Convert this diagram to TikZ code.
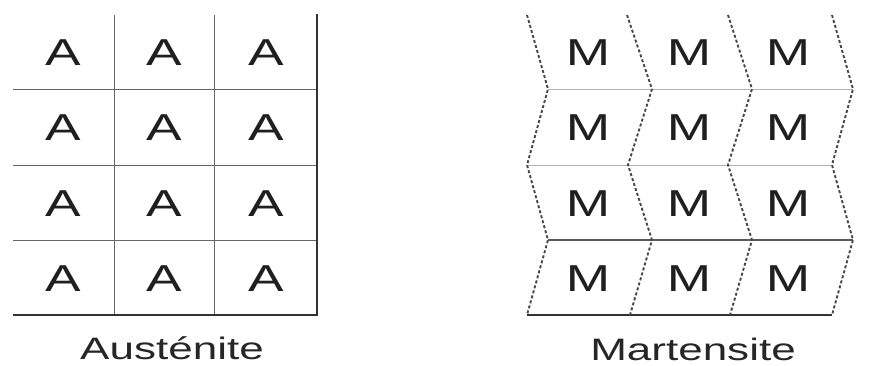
\documentclass[tikz,border=0pt]{standalone}
\usepackage{graphicx}
\usepackage{fontspec}
\setmainfont{Liberation Sans}
\tikzset{
  cellgrid/.style={draw=gray!80!black, line width=1pt},
  frameline/.style={draw=black!80, line width=2pt},
  thinrow/.style={draw=gray!60, line width=0.9pt},
  darkrow/.style={draw=black!65, line width=1.4pt},
  plate/.style={draw=black!72, line width=1.9pt, dash pattern=on 3pt off 2.2pt},
  letter/.style={anchor=base, inner sep=0pt, text=black!88,
    font=\fontsize{37.5}{40}\selectfont},
  caption/.style={anchor=base, inner sep=0pt, text=black!85,
    font=\fontsize{31}{34}\selectfont}
}
\newcommand{\wide}[1]{\scalebox{1.42}[1]{#1}}
\begin{document}
\begin{tikzpicture}[x=1pt, y=-1pt]
  \useasboundingbox (0,0) rectangle (876,365);

  % ---- Austenite: square grid ----
  \foreach \yy in {89,165,240} \draw[cellgrid] (13,\yy) -- (317,\yy);
  \foreach \xx in {114,214} \draw[cellgrid] (\xx,15) -- (\xx,315);
  \draw[frameline] (317,14) -- (317,315) -- (13,315);

  \foreach \xx/\c in {63/1,164/2,266/3}
    \foreach \yy/\r in {65/1,140/2,216/3,291/4}
      \node[letter] (a\r\c) at (\xx,\yy) {\wide{A}};

  \node[caption] (austenite) at (172,359) {\wide{Austénite}};

  % ---- Martensite: sheared plates ----
  \draw[thinrow] (548,89) -- (853,89);
  \draw[thinrow] (527,165) -- (832,165);
  \draw[darkrow] (548,240) -- (853,240);
  \draw[frameline, line width=1.8pt] (527,315) -- (832,315);

  \draw[plate] (527,15) -- (548,89) -- (527,165) -- (548,240) -- (527,315);
  \draw[plate] (627,15) -- (652,89) -- (628,165) -- (652,240) -- (630,315);
  \draw[plate] (728,15) -- (752,89) -- (728,165) -- (752,240) -- (730,315);
  \draw[plate] (832,15) -- (853,89) -- (832,165) -- (853,240) -- (832,315);

  \foreach \xx/\c in {588/1,689/2,788/3}
    \foreach \yy/\r in {65/1,140/2,216/3,291/4}
      \node[letter] (m\r\c) at (\xx,\yy) {\wide{M}};

  \node[caption] (martensite) at (693,360) {\wide{Martensite}};
\end{tikzpicture}
\end{document}
